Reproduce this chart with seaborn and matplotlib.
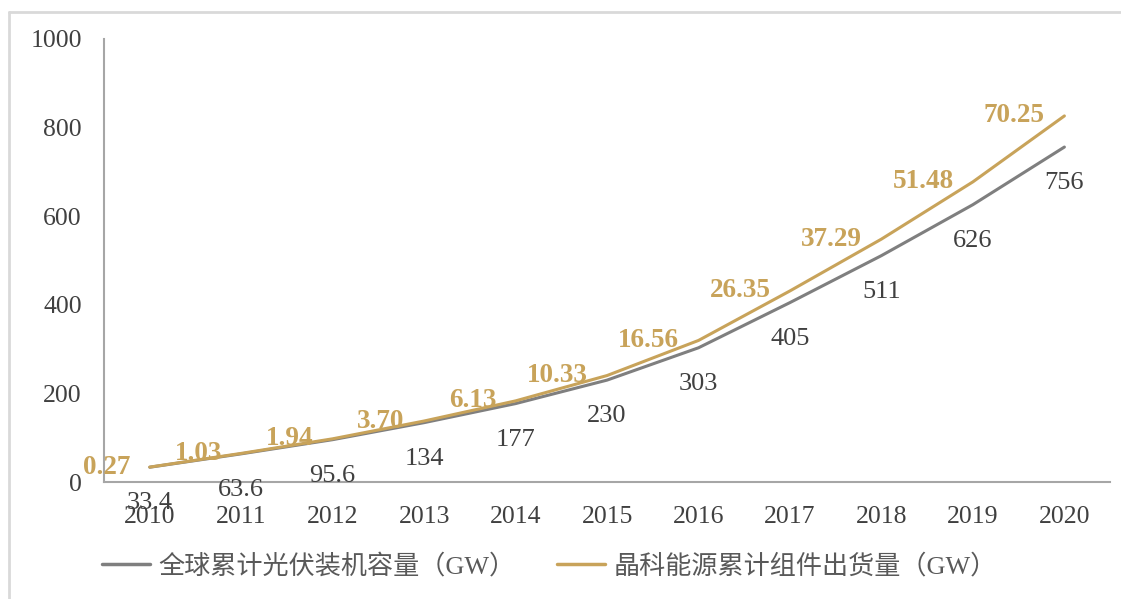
import pandas as pd
import seaborn as sb
from matplotlib import pyplot as plt
from matplotlib.lines import Line2D

years = [2010, 2011, 2012, 2013, 2014, 2015, 2016, 2017, 2018, 2019, 2020]
global_cap = [33.4, 63.6, 95.6, 134, 177, 230, 303, 405, 511, 626, 756]
jinko_ship = [0.27, 1.03, 1.94, 3.70, 6.13, 10.33, 16.56, 26.35, 37.29, 51.48, 70.25]
global_labels = ['33.4', '63.6', '95.6', '134', '177', '230', '303', '405', '511', '626', '756']
jinko_labels = ['0.27', '1.03', '1.94', '3.70', '6.13', '10.33', '16.56', '26.35', '37.29', '51.48', '70.25']

name_global = '全球累计光伏装机容量（GW）'
name_jinko = '晶科能源累计组件出货量（GW）'

gray = '#7f7f7f'
gold = '#c8a35a'

sb.set_style('white')
plt.rcParams['font.family'] = ['Liberation Serif', 'Noto Sans CJK SC', 'DejaVu Sans']

# stacked line: jinko series sits on top of the global one
stacked = [g + j for g, j in zip(global_cap, jinko_ship)]
df = pd.DataFrame({
    'year': years * 2,
    'value': global_cap + stacked,
    'series': [name_global] * len(years) + [name_jinko] * len(years),
})

fig = plt.figure(figsize=(11.21, 5.99), dpi=100)
ax = fig.add_axes([0.0928, 0.1953, 0.8975, 0.7397])

sb.lineplot(data=df, x='year', y='value', hue='series',
            palette={name_global: gray, name_jinko: gold},
            linewidth=2.2, legend=False, ax=ax)

ax.set_xlim(2009.5, 2020.5)
ax.set_ylim(0, 1000)
ax.set_yticks(range(0, 1001, 200))
ax.set_xticks([y - 0.5 for y in years] + [years[-1] + 0.5])
ax.set_xticklabels([])
ax.set_xticks(years, minor=True)
ax.set_xticklabels([str(y) for y in years], minor=True)
ax.tick_params(axis='x', which='major', direction='out', length=6, width=1.5, color='#a6a6a6')
ax.tick_params(axis='x', which='minor', length=0, pad=17, labelsize=18.5, labelcolor='#404040')
ax.tick_params(axis='y', direction='out', length=6, width=1.5, color='#a6a6a6', pad=10,
               labelsize=18.5, labelcolor='#404040')
ax.set_xlabel('')
ax.set_ylabel('')
for side in ['top', 'right']:
    ax.spines[side].set_visible(False)
for side in ['left', 'bottom']:
    ax.spines[side].set_color('#a6a6a6')
    ax.spines[side].set_linewidth(1.5)

for x, v, lab in zip(years, global_cap, global_labels):
    ax.annotate(lab, (x, v), xytext=(0, -26), textcoords='offset points',
                ha='center', va='center', fontsize=19, color='#404040')
for x, v, lab in zip(years, stacked, jinko_labels):
    ax.annotate(lab, (x, v), xytext=(-14, 0), textcoords='offset points',
                ha='right', va='center', fontsize=19.5, fontweight='bold', color=gold)

handles = [Line2D([], [], color=gray, linewidth=2.5), Line2D([], [], color=gold, linewidth=2.5)]
fig.legend(handles, [name_global, name_jinko], loc='center', bbox_to_anchor=(0.49, 0.055),
           ncol=2, frameon=False, fontsize=18.8, handlelength=1.85, handletextpad=0.3,
           columnspacing=1.6, labelcolor='#595959')

# light frame round the picture (left and top edges visible)
fig.add_artist(Line2D([9 / 1121, 9 / 1121], [0, 1 - 12 / 599], color='#d9d9d9', linewidth=2,
                      transform=fig.transFigure))
fig.add_artist(Line2D([9 / 1121, 1], [1 - 12 / 599, 1 - 12 / 599], color='#d9d9d9', linewidth=2,
                      transform=fig.transFigure))

fig.savefig('out.png', dpi=100)
